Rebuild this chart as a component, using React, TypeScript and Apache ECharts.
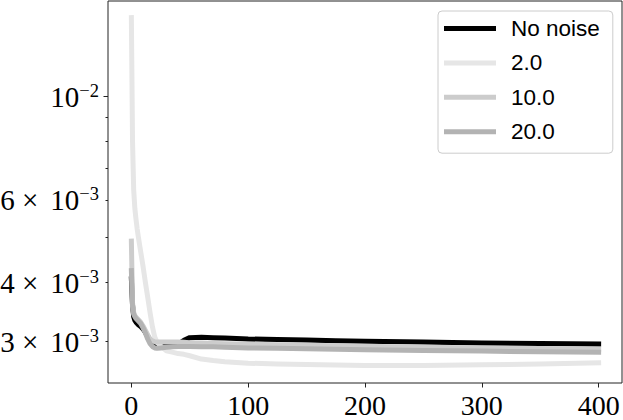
import React, { useEffect, useRef } from "react";
import * as echarts from "echarts";

const epochs = [0, 1, 2, 3, 4, 5, 6, 8, 10, 12, 14, 16, 18, 20, 22, 25, 30, 35, 40, 45, 50, 60, 70, 80, 100, 125, 150, 175, 200, 250, 300, 350, 400];

const noNoise = [4.07e-3, 3.58e-3, 3.38e-3, 3.32e-3, 3.29e-3, 3.27e-3, 3.25e-3, 3.22e-3, 3.18e-3, 3.13e-3, 3.07e-3, 3.01e-3, 2.97e-3, 2.95e-3, 2.945e-3, 2.945e-3, 2.945e-3, 2.948e-3, 2.955e-3, 3.01e-3, 3.05e-3, 3.055e-3, 3.05e-3, 3.045e-3, 3.03e-3, 3.022e-3, 3.015e-3, 3.005e-3, 2.998e-3, 2.985e-3, 2.972e-3, 2.963e-3, 2.956e-3];

const noise2 = [1.47e-2, 8.0e-3, 6.3e-3, 5.75e-3, 5.45e-3, 5.2e-3, 5.0e-3, 4.65e-3, 4.33e-3, 4.0e-3, 3.72e-3, 3.45e-3, 3.22e-3, 3.06e-3, 2.98e-3, 2.93e-3, 2.86e-3, 2.84e-3, 2.82e-3, 2.81e-3, 2.79e-3, 2.745e-3, 2.725e-3, 2.71e-3, 2.69e-3, 2.68e-3, 2.672e-3, 2.665e-3, 2.66e-3, 2.66e-3, 2.668e-3, 2.68e-3, 2.695e-3];

const noise10 = [4.9e-3, 3.62e-3, 3.45e-3, 3.4e-3, 3.37e-3, 3.35e-3, 3.33e-3, 3.29e-3, 3.23e-3, 3.16e-3, 3.09e-3, 3.03e-3, 3.0e-3, 2.99e-3, 2.985e-3, 2.985e-3, 2.985e-3, 2.985e-3, 2.985e-3, 2.98e-3, 2.975e-3, 2.97e-3, 2.965e-3, 2.96e-3, 2.953e-3, 2.945e-3, 2.937e-3, 2.93e-3, 2.923e-3, 2.91e-3, 2.9e-3, 2.89e-3, 2.882e-3];

const noise20 = [4.24e-3, 3.55e-3, 3.42e-3, 3.38e-3, 3.35e-3, 3.33e-3, 3.31e-3, 3.27e-3, 3.2e-3, 3.12e-3, 3.03e-3, 2.96e-3, 2.92e-3, 2.9e-3, 2.895e-3, 2.9e-3, 2.91e-3, 2.915e-3, 2.92e-3, 2.92e-3, 2.92e-3, 2.918e-3, 2.915e-3, 2.91e-3, 2.9e-3, 2.895e-3, 2.888e-3, 2.88e-3, 2.875e-3, 2.865e-3, 2.855e-3, 2.846e-3, 2.838e-3];

const seriesNames = ["No noise", "2.0", "10.0", "20.0"];
const seriesValues = [noNoise, noise2, noise10, noise20];
const seriesColors = ["#000000", "#e6e6e6", "#cccccc", "#b3b3b3"];

const xTicks = [0, 100, 200, 300, 400];
const yMajorTicks = [1e-2];
const yMinorTicks = [3e-3, 4e-3, 5e-3, 6e-3, 7e-3, 8e-3, 9e-3];
const yLabelValues = [3e-3, 4e-3, 6e-3, 1e-2];
const yLabelTexts = [
  "{n|3}{x|\u00a0×}{n|10}{s|−3}",
  "{n|4}{x|\u00a0×}{n|10}{s|−3}",
  "{n|6}{x|\u00a0×}{n|10}{s|−3}",
  "{n|10}{s|−2}",
];

const SERIF = "'Liberation Serif', 'DejaVu Serif', serif";
const SANS = "'Liberation Sans', Arial, Helvetica, sans-serif";

export default function App() {
  const ref = useRef<HTMLDivElement>(null);
  useEffect(() => {
    if (!ref.current) return;
    const chart = echarts.init(ref.current, null, { renderer: "svg" });
    const yMin = 2.4406e-3;
    const yMax = 1.5951e-2;
    const tickAxis = (values: number[], len: number) => ({
      type: "log",
      logBase: 10,
      min: yMin,
      max: yMax,
      position: "left",
      splitLine: { show: false },
      minorTick: { show: false },
      axisLine: { show: false },
      axisTick: {
        show: true,
        customValues: values,
        length: len,
        lineStyle: { color: "#222", width: 1 },
      },
      axisLabel: { show: false },
    });
    chart.setOption({
      animation: false,
      backgroundColor: "#ffffff",
      grid: {
        left: 108,
        right: 1,
        top: 1,
        bottom: 37,
        show: true,
        borderColor: "#222",
        borderWidth: 1,
        outerBoundsMode: "none",
      },
      legend: {
        data: seriesNames,
        orient: "vertical",
        left: 438,
        top: 11,
        padding: [6, 13, 10, 6],
        itemGap: 11.4,
        itemWidth: 52,
        itemHeight: 5,
        icon: "rect",
        selectedMode: false,
        backgroundColor: "rgba(255,255,255,0.8)",
        borderColor: "#cccccc",
        borderWidth: 1,
        borderRadius: 4,
        textStyle: {
          fontFamily: SANS,
          fontSize: 22.5,
          color: "#000",
          lineHeight: 20,
          padding: [0, 0, 0, 10],
        },
      },
      xAxis: {
        type: "value",
        min: -20,
        max: 420,
        splitLine: { show: false },
        axisLine: { show: false },
        axisTick: {
          show: true,
          customValues: xTicks,
          length: 4.5,
          lineStyle: { color: "#222", width: 1 },
        },
        axisLabel: {
          customValues: xTicks,
          fontFamily: SERIF,
          fontSize: 28,
          color: "#000",
          margin: 8,
        },
      },
      yAxis: [
        {
          type: "log",
          logBase: 10,
          min: yMin,
          max: yMax,
          position: "left",
          splitLine: { show: false },
          minorTick: { show: false },
          axisLine: { show: false },
          axisTick: { show: false },
          axisLabel: {
            customValues: yLabelValues,
            margin: 9,
            formatter: (v: number) => {
              let best = 0;
              let bd = Infinity;
              yLabelValues.forEach((t, i) => {
                const d = Math.abs(Math.log(v) - Math.log(t));
                if (d < bd) {
                  bd = d;
                  best = i;
                }
              });
              return yLabelTexts[best];
            },
            rich: {
              n: { fontFamily: SERIF, fontSize: 29, lineHeight: 30, color: "#000", verticalAlign: "bottom" },
              x: { fontFamily: SERIF, fontSize: 29, lineHeight: 30, color: "#000", padding: [0, 12, 0, 0], verticalAlign: "bottom" },
              s: { fontFamily: SERIF, fontSize: 18.5, lineHeight: 18, color: "#000", verticalAlign: "top" },
            },
          },
        },
        tickAxis(yMinorTicks, 2.5),
        tickAxis(yMajorTicks, 4.5),
      ],
      series: seriesNames.map((name, i) => ({
        name,
        type: "line",
        yAxisIndex: 0,
        data: epochs.map((e, j) => [e, seriesValues[i][j]]),
        showSymbol: false,
        symbol: "none",
        color: seriesColors[i],
        lineStyle: { color: seriesColors[i], width: 5, cap: "square", join: "round" },
        emphasis: { disabled: true },
      })),
    });
    return () => chart.dispose();
  }, []);
  return (
    <div
      ref={ref}
      style={{ position: "fixed", left: 0, top: 0, width: 623, height: 420 }}
    />
  );
}
